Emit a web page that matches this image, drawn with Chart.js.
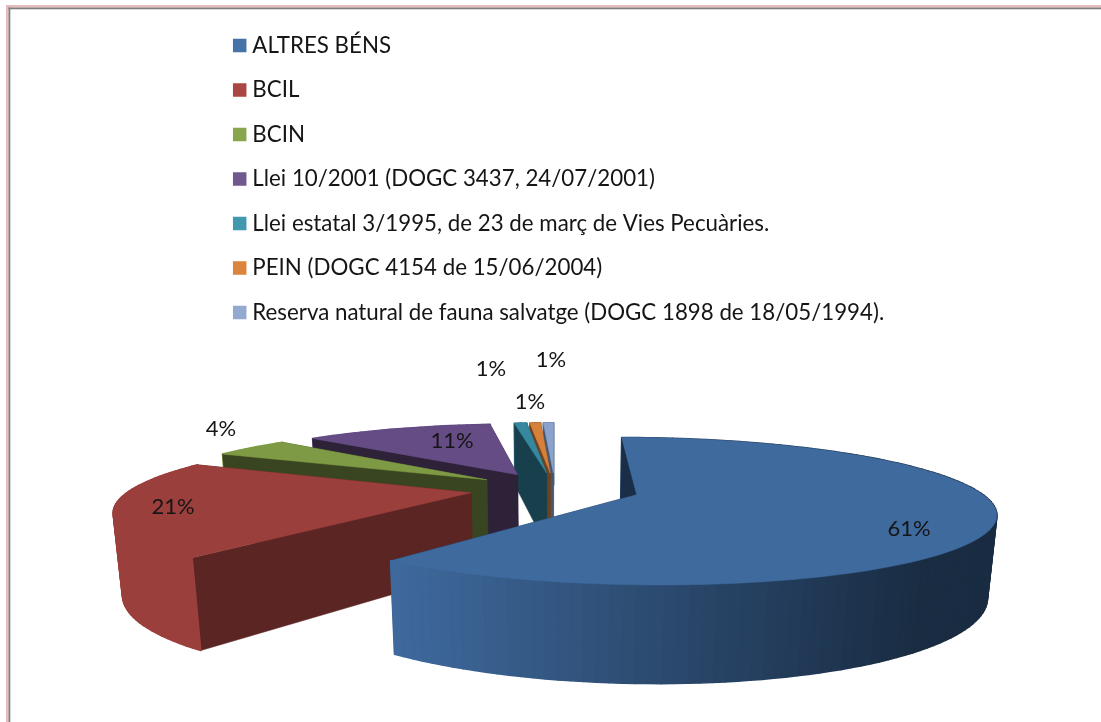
<!DOCTYPE html>
<html>
<head>
<meta charset="utf-8">
<title>Béns protegits</title>
<script src="https://cdn.jsdelivr.net/npm/chart.js@4"></script>
<style>
    html, body { margin: 0; padding: 0; background: #fff; }
    #wrap { position: absolute; left: 0; top: 0; width: 1101px; height: 722px; filter: blur(0.55px); }
</style>
</head>
<body>
<div id="wrap"><canvas id="chart"></canvas></div>
<script>
const categories = [
    'ALTRES BÉNS',
    'BCIL',
    'BCIN',
    'Llei 10/2001 (DOGC 3437, 24/07/2001)',
    'Llei estatal 3/1995, de 23 de març de Vies Pecuàries.',
    'PEIN (DOGC 4154 de 15/06/2004)',
    'Reserva natural de fauna salvatge (DOGC 1898 de 18/05/1994).'
];
const shares = [60.8, 21.49, 4.49, 11.2, 0.75, 0.65, 0.62];

const legendColors = ['#4572a7', '#aa4643', '#89a54e', '#71588f', '#4198af', '#db843d', '#93a9cf'];
const topColors = ['#3f6a9e', '#9b3f3d', '#7f9a44', '#664c84', '#36889e', '#d6803a', '#8ba3cc'];
const cutColors = ['#1a2f47', '#5b2523', '#394420', '#2d2238', '#18404c', '#6e4120', '#46586f'];
const wallDark = '#192c42';

// where each percentage sits on the page, same order as categories
const labelSpots = [[909, 529], [173, 507], [221, 429], [452, 441], [530, 402], [491, 369], [551, 360]];

// 3d view of the pie, found by fitting against the picture
const view = { cx: 555, cy: 489, rx: 340, ry: 67.5, depth: 79, persp: 0.22, drop: 0.02, explode: 0.25 };

function project(x, y, z) {
    const d = 1 - view.persp * y + view.drop * z;
    return [view.cx + view.rx * x / d, view.cy + (view.ry * y + view.depth * z) / d];
}

function hexRgb(hex) {
    return [1, 3, 5].map(function (i) { return parseInt(hex.substr(i, 2), 16); });
}

function mixColor(a, b, t) {
    const ca = hexRgb(a), cb = hexRgb(b);
    return 'rgb(' + ca.map(function (v, i) { return Math.round(v + (cb[i] - v) * t); }).join(',') + ')';
}

function fillPoly(ctx, pts, color, edge) {
    ctx.beginPath();
    pts.forEach(function (p, i) {
        if (i === 0) ctx.moveTo(p[0], p[1]); else ctx.lineTo(p[0], p[1]);
    });
    ctx.closePath();
    ctx.fillStyle = color;
    ctx.strokeStyle = color;
    ctx.lineWidth = edge;
    ctx.fill();
    ctx.stroke();
}

function drawSlice(ctx, arc, i) {
    const mid = (arc.startAngle + arc.endAngle) / 2;
    const ax = Math.cos(mid) * view.explode;
    const ay = Math.sin(mid) * view.explode;
    const faces = [];

    const cutFace = function (ang) {
        const ox = ax + Math.cos(ang), oy = ay + Math.sin(ang);
        faces.push({
            y: (ay + oy) / 2,
            pts: [project(ax, ay, 0), project(ox, oy, 0), project(ox, oy, 1), project(ax, ay, 1)],
            color: cutColors[i],
            edge: 0.5
        });
    };
    cutFace(arc.startAngle);
    cutFace(arc.endAngle);

    const steps = Math.max(2, Math.ceil((arc.endAngle - arc.startAngle) / 0.03));
    const rim = [];
    for (let s = 0; s <= steps; s++) {
        const ang = arc.startAngle + (arc.endAngle - arc.startAngle) * s / steps;
        rim.push([ax + Math.cos(ang), ay + Math.sin(ang)]);
    }
    for (let s = 0; s < steps; s++) {
        const a = rim[s], b = rim[s + 1];
        const p = project(a[0], a[1], 0);
        const t = Math.min(1, Math.max(0, (p[0] - 395) / 535));
        faces.push({
            y: (a[1] + b[1]) / 2,
            pts: [p, project(b[0], b[1], 0), project(b[0], b[1], 1), project(a[0], a[1], 1)],
            color: mixColor(topColors[i], wallDark, t),
            edge: 1.6
        });
    }

    faces.sort(function (f, g) { return f.y - g.y; });
    faces.forEach(function (f) { fillPoly(ctx, f.pts, f.color, f.edge); });

    const top = [project(ax, ay, 0)];
    rim.forEach(function (p) { top.push(project(p[0], p[1], 0)); });
    fillPoly(ctx, top, topColors[i], 0.5);
}

const pie3d = {
    id: 'pie3d',
    beforeDraw: function (chart) {
        const ctx = chart.ctx;
        ctx.save();
        ctx.fillStyle = '#e9bcbc';
        ctx.fillRect(6, 5, 1095, 2.5);
        ctx.fillRect(6, 5, 2.5, 717);
        ctx.fillStyle = '#7f7f7f';
        ctx.fillRect(8.5, 7.5, 1092.5, 1.8);
        ctx.fillRect(8.5, 7.5, 1.8, 714.5);
        ctx.restore();
    },
    beforeDatasetsDraw: function (chart) {
        const ctx = chart.ctx;
        const arcs = chart.getDatasetMeta(0).data;
        ctx.save();
        ctx.lineJoin = 'round';
        for (let i = arcs.length - 1; i >= 0; i--) {
            drawSlice(ctx, arcs[i], i);
        }
        ctx.font = '22px Lato';
        ctx.textAlign = 'center';
        ctx.textBaseline = 'middle';
        ctx.fillStyle = '#151515';
        shares.forEach(function (v, i) {
            ctx.fillText(Math.round(v) + '%', labelSpots[i][0], labelSpots[i][1]);
        });
        ctx.restore();
        return false;
    }
};

new Chart(document.getElementById('chart'), {
    type: 'pie',
    data: {
        labels: categories,
        datasets: [{
            data: shares,
            backgroundColor: legendColors,
            borderWidth: 0
        }]
    },
    options: {
        responsive: true,
        maintainAspectRatio: false,
        animation: false,
        layout: { padding: { left: 216, top: 12.2 } },
        plugins: {
            tooltip: { enabled: false },
            legend: {
                position: 'left',
                align: 'start',
                maxWidth: 860,
                labels: {
                    usePointStyle: true,
                    pointStyle: 'rect',
                    boxWidth: 3,
                    boxHeight: 13.5,
                    padding: 22.2,
                    color: '#151515',
                    font: { family: 'Lato', size: 22.3 }
                }
            }
        }
    },
    plugins: [pie3d]
});
</script>
</body>
</html>
